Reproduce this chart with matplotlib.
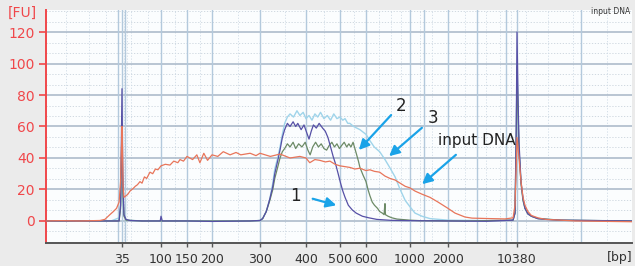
import numpy as np
import matplotlib
matplotlib.use("Agg")
import matplotlib.pyplot as plt
from matplotlib.ticker import FixedLocator, FixedFormatter, NullLocator

# ---- axis calibration (bp ladder -> relative migration position) ----
ladder_bp = [12, 35, 100, 150, 200, 300, 400, 500, 600, 1000, 2000, 10380, 40000]
ladder_pos = [46, 122, 161, 187, 212, 260, 306, 340, 366, 410, 448, 517, 632]
tick_bp = [35, 100, 150, 200, 300, 400, 500, 600, 1000, 2000, 10380]
tick_labels = ["35", "100", "150", "200", "300", "400", "500", "600", "1000", "2000", "10380"]

# ---- traces (bp, FU) ----
input_bp = [12, 14.6, 19.4, 25.7, 27.5, 29.5, 31, 32.4, 33.6, 34.3, 35, 35.5, 36, 36.9, 39, 41, 43.4, 47,
            50, 53, 56.8, 60, 64, 68, 74.3, 80, 86, 92, 100, 107, 115, 122, 130, 134.5, 142, 150, 160,
            168, 174, 182, 190, 200, 210, 220, 233, 245, 255, 276, 290, 300, 320, 340, 362, 385, 400,
            410, 424, 438, 454, 468, 484, 500, 518, 536, 555, 575, 600, 628, 662, 703, 748, 793, 841,
            892, 946, 1000, 1095, 1245, 1440, 1667, 2000, 2364, 3000, 3548, 5454, 7800, 9450, 9900,
            10200, 10380, 10627, 10880, 11140, 11400, 11796, 12290, 13260, 14525, 17380, 20620, 40000]
input_fu = [0, 0.2, 0, 0.3, 1, 4, 6, 8, 12, 25, 60, 45, 22, 15, 16, 17, 19, 20.5,
            22, 23, 25, 24, 28, 27, 31, 30, 33, 32.5, 35, 36, 35.5, 38, 37, 39, 38, 41, 39,
            42, 37, 43, 38.5, 42, 41, 44, 42, 43.5, 42, 43, 41.5, 43, 41, 42.5, 40, 41, 40,
            37, 39, 38.5, 37.5, 38, 36, 35, 34.5, 34, 33, 33.5, 32, 32.5, 31.5, 31, 28.5, 27, 26,
            24, 22, 21, 19, 17, 15, 12, 8, 5, 2.5, 1.8, 1.5, 1.3, 2, 10,
            35, 53, 40, 25, 15, 10, 6, 3.5, 2, 1, 0.5, 0, -0.5]

s1_bp = [12, 20, 30, 33.6, 34.3, 35, 35.7, 36.9, 39, 43.4, 60, 98, 100, 102, 150, 200, 276, 300,
         305, 312, 319, 325, 329, 335, 340, 345, 350, 356, 362, 369, 375, 380, 388, 395, 402, 408,
         414, 420, 428, 436, 446, 454, 462, 470, 478, 486, 494, 502, 510, 518, 530, 545, 560, 585,
         620, 680, 800, 1000, 2000, 5000, 9450, 9900, 10200, 10380, 10500, 10627, 10880, 11140,
         11400, 11796, 12290, 13260, 14525, 17380, 40000]
s1_fu = [0, 0, 0, 0, 10, 84, 30, 4, 1, 0.3, 0, 0, 3, 0, 0, -0.3, 0, 0.3,
         1.5, 6, 14, 22, 30, 38, 45, 53, 58, 62, 60, 63, 60, 62, 58, 61, 56, 52,
         57, 61, 59, 62, 59, 57, 53, 47, 41, 36, 30, 24, 19, 15, 10, 7, 5, 3,
         2, 1, 0.4, 0.2, 0, -0.2, 0.5, 5, 60, 120, 80, 50, 25, 14,
         8, 4.5, 3, 1.5, 1, 0.5, 0]

s2_bp = [12, 30, 33.6, 34.3, 35, 35.7, 36.9, 39, 60, 200, 276, 300, 305, 312, 319, 325, 329, 335,
         340, 345, 350, 356, 362, 369, 375, 382, 390, 398, 405, 411, 418, 426, 434, 442, 450, 458,
         466, 474, 482, 490, 498, 506, 515, 524, 532, 540, 548, 555, 562, 569, 575, 588, 600, 614,
         628, 645, 662, 686, 703, 725, 740, 745, 748, 752, 775, 810, 860, 1000, 1200, 3000, 9450,
         9900, 10200, 10380, 10500, 10627, 10880, 11140, 11400, 11796, 12290, 13260, 17380, 40000]
s2_fu = [0, 0, 0, 8, 62, 20, 3, 0.5, 0, 0, 0, 0.3, 1.5, 6, 13, 20, 27, 34,
         40, 44, 46, 49, 47, 50, 46, 49, 47, 50, 45, 42, 47, 50, 47, 49, 46, 45,
         48, 50, 47, 49, 46, 48, 50, 47, 49, 47, 50, 46, 42, 38, 34, 29, 25, 20,
         16, 12, 10, 8, 6, 5, 4, 9, 11, 4, 3, 2, 1.2, 0.5, 0.2, 0, 0.5,
         5, 55, 98, 70, 45, 24, 13, 8, 4.5, 3, 1.5, 0.5, 0]

s3_bp = [12, 30, 33.6, 34.3, 35, 35.7, 36.9, 39, 60, 200, 276, 300, 305, 312, 319, 325, 329, 335,
         340, 345, 350, 356, 362, 370, 378, 385, 393, 400, 408, 416, 424, 432, 440, 450, 460, 470,
         480, 490, 500, 510, 518, 528, 536, 550, 575, 600, 628, 660, 703, 748, 790, 841, 892, 946,
         1000, 1095, 1245, 1440, 2000, 5000, 9450, 9900, 10200, 10380, 10500, 10627, 10880, 11140,
         11400, 11796, 12290, 13260, 17380, 40000]
s3_fu = [0, 0, 2, 10, 25, 18, 4, 0.5, 0, 0, 0, 0.3, 1.5, 6, 14, 24, 33, 40,
         47, 55, 62, 66, 68, 66, 70, 67, 69, 65, 67, 64, 68, 66, 69, 65, 67, 64,
         68, 65, 66, 64, 65, 62, 62, 60, 58, 55, 51, 47, 44, 39, 34, 28, 20, 13,
         9, 5, 3, 1.5, 0.5, 0.2, 0.5, 5, 50, 100, 72, 45, 24, 13,
         8, 4.5, 3, 1.5, 0.5, 0]

y_ticks = [0, 20, 40, 60, 80, 100, 120]

# ---- scale ----
LX = np.log10(ladder_bp)
PX = np.array(ladder_pos, dtype=float)

def fwd(x):
    x = np.clip(np.asarray(x, dtype=float), 1e-3, None)
    return np.interp(np.log10(x), LX, PX, left=PX[0] - 1000, right=PX[-1] + 1000)

def inv(p):
    return 10 ** np.interp(np.asarray(p, dtype=float), PX, LX)

W, H = 635, 266
fig = plt.figure(figsize=(W / 100, H / 100), dpi=100, facecolor="#ebebeb")
ax = fig.add_axes([46 / W, (H - 243) / H, (632 - 46) / W, (243 - 10) / H])
ax.set_facecolor("#fbfdfe")
ax.set_xscale("function", functions=(fwd, inv))
ax.set_xlim(12, 40000)
ax.set_ylim(-14, 134)

# grid
for y in np.arange(-20 / 3 * 2, 134, 20 / 3):
    if abs(round(y / 20) * 20 - y) > 0.5:
        ax.axhline(y, color="#c9d3dc", lw=0.6, ls=(0, (1.5, 2)), zorder=0)
for y in range(0, 134, 20):
    ax.axhline(y, color="#a7b6c6", lw=1.1, zorder=0.5)
minor_v = [16, 22, 28, 33, 37, 40, 45, 70, 125, 175, 250, 350, 450, 550, 700, 800, 900,
           1200, 1500, 3000, 4000, 5000, 7000, 9000, 11500, 15000, 20000, 30000]
for x in minor_v:
    ax.axvline(x, color="#cfdbe6", lw=0.6, ls=(0, (1.5, 2)), zorder=0)
for x in tick_bp + [33, 38, 1300, 4000, 8000, 22000]:
    ax.axvline(x, color="#b3c9dc", lw=1.0, zorder=0.5)

# traces
ax.plot(s3_bp, s3_fu, color="#9fd4ea", lw=1.0, zorder=2)
ax.plot(s2_bp, s2_fu, color="#6c8a66", lw=0.9, zorder=3)
ax.plot(s1_bp, s1_fu, color="#5650a6", lw=0.9, zorder=4)
ax.plot(input_bp, input_fu, color="#e8755a", lw=0.9, zorder=5)

# axes styling
for s in ["top", "right"]:
    ax.spines[s].set_visible(False)
ax.spines["left"].set_color("#f0474a")
ax.spines["left"].set_linewidth(1.4)
ax.spines["bottom"].set_color("#555555")
ax.spines["bottom"].set_linewidth(1.4)
ax.set_yticks(y_ticks)
ax.tick_params(axis="y", colors="#f0474a", labelsize=10, length=5, width=1.2, pad=3)
ax.xaxis.set_major_locator(FixedLocator(tick_bp))
ax.xaxis.set_major_formatter(FixedFormatter(tick_labels))
ax.xaxis.set_minor_locator(NullLocator())
ax.tick_params(axis="x", colors="#555555", labelcolor="#333333", labelsize=9, length=3, width=1, pad=4)

def fp(x, y):
    return (x / W, 1 - y / H)

fig.text(*fp(22, 13), "[FU]", color="#f0474a", fontsize=10, ha="center", va="center")
fig.text(*fp(620, 257), "[bp]", color="#333333", fontsize=9, ha="center", va="center")
fig.text(*fp(611, 12), "input DNA", color="#333333", fontsize=5.5, ha="center", va="center")

arrow_kw = dict(arrowstyle="-|>,head_length=0.6,head_width=0.3", color="#1aa3e8", lw=1.6)
labels = [("1", (295, 196), (310, 198), (339, 206)),
          ("2", (401, 106), (393, 113), (357, 152)),
          ("3", (433, 118), (424, 126), (387, 158)),
          ("input DNA", (477, 140), (458, 153), (420, 186))]
for txt, tpos, a0, a1 in labels:
    fig.text(*fp(*tpos), txt, color="#222222", fontsize=12 if len(txt) == 1 else 11,
             ha="center", va="center")
    ax.annotate("", xy=fp(*a1), xytext=fp(*a0), xycoords="figure fraction",
                textcoords="figure fraction", arrowprops=arrow_kw)

fig.savefig("out.png", dpi=100, facecolor=fig.get_facecolor())
